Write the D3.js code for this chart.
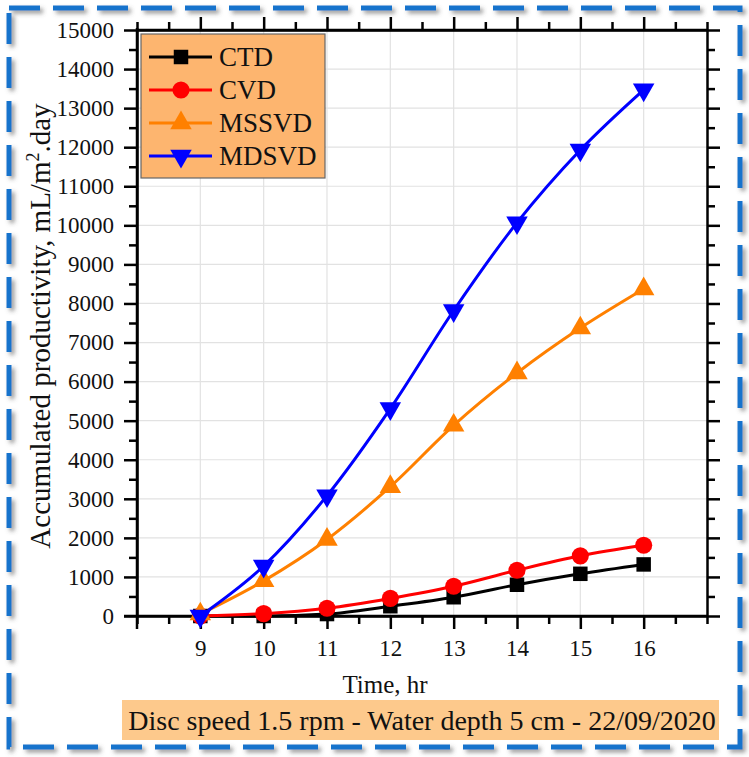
<!DOCTYPE html>
<html><head><meta charset="utf-8">
<script src="https://cdn.jsdelivr.net/npm/d3@7/dist/d3.min.js"></script>
<style>body{margin:0;background:#fff}svg{display:block}text{font-family:"Liberation Serif","Times New Roman",serif}</style>
</head><body><div id="c"></div>
<script>
const hours = [9, 10, 11, 12, 13, 14, 15, 16];
const seriesNames = ["CTD", "CVD", "MSSVD", "MDSVD"];
const ctd = [0, 0, 50, 250, 480, 800, 1080, 1320];
const cvd = [0, 60, 200, 450, 760, 1170, 1540, 1810];
const mssvd = [50, 900, 1960, 3310, 4880, 6220, 7370, 8370];
const mdsvd = [0, 1280, 3080, 5310, 7820, 10070, 11930, 13470];
const yTicks = [0,1000,2000,3000,4000,5000,6000,7000,8000,9000,10000,11000,12000,13000,14000,15000];
const xTicks = [9,10,11,12,13,14,15,16];
const xTitle = "Time, hr";
const caption = "Disc speed 1.5 rpm - Water depth 5 cm - 22/09/2020";

const W = 749, H = 757;
const svg = d3.select("#c").append("svg").attr("width", W).attr("height", H);
const defs = svg.append("defs");
const f = defs.append("filter").attr("id","sh").attr("x","-5%").attr("y","-5%").attr("width","110%").attr("height","110%");
f.append("feDropShadow").attr("dx",3).attr("dy",3).attr("stdDeviation",2).attr("flood-color","#555").attr("flood-opacity",0.6);

// border
svg.append("rect").attr("x",9).attr("y",8).attr("width",731).attr("height",739)
  .attr("fill","none").attr("stroke","#1873cc").attr("stroke-width",5)
  .attr("stroke-dasharray","31,13").attr("filter","url(#sh)");

const L = 137, R = 707, T = 30, B = 616;
const x = d3.scaleLinear().domain([8, 17]).range([L, R]);
const y = d3.scaleLinear().domain([0, 15000]).range([B, T]);

// grid
const g = svg.append("g");
g.selectAll(".gx").data(xTicks).enter().append("line")
  .attr("x1", d=>x(d)).attr("x2", d=>x(d)).attr("y1", T).attr("y2", B)
  .attr("stroke","#e2e2e2").attr("stroke-width",1.2);
g.selectAll(".gy").data(yTicks).enter().append("line")
  .attr("x1", L).attr("x2", R).attr("y1", d=>y(d)).attr("y2", d=>y(d))
  .attr("stroke","#e2e2e2").attr("stroke-width",1.2);

// axes
const MAJ = 13, MIN = 8;
function styleAxis(sel){
  sel.select(".domain").attr("stroke","#000").attr("stroke-width",2.5);
  sel.selectAll(".tick line").attr("stroke","#000").attr("stroke-width",2.5);
  sel.selectAll("text").attr("font-size",23).attr("fill","#111");
}
function minor(sel){ sel.select(".domain").remove(); sel.selectAll("line").attr("stroke","#000").attr("stroke-width",2.5); }
const xMinor = d3.range(8, 17.01, 0.5).filter(v=>!xTicks.includes(v));
const yMinor = d3.range(0, 15001, 500).filter(v=>v%1000);
const xb = svg.append("g").attr("transform",`translate(0,${B})`)
  .call(d3.axisBottom(x).tickValues(xTicks).tickSize(MAJ).tickSizeOuter(0).tickPadding(11).tickFormat(d3.format("d")));
styleAxis(xb);
svg.append("g").attr("transform",`translate(0,${B})`)
  .call(d3.axisBottom(x).tickValues(xMinor).tickSize(MIN).tickFormat("")).call(minor);
const xt = svg.append("g").attr("transform",`translate(0,${T})`)
  .call(d3.axisTop(x).tickValues(xTicks).tickSize(MAJ).tickSizeOuter(0).tickFormat(""));
styleAxis(xt);
svg.append("g").attr("transform",`translate(0,${T})`)
  .call(d3.axisTop(x).tickValues(xMinor).tickSize(MIN).tickFormat("")).call(minor);
const yl = svg.append("g").attr("transform",`translate(${L},0)`)
  .call(d3.axisLeft(y).tickValues(yTicks).tickSize(MAJ).tickSizeOuter(0).tickPadding(10).tickFormat(d3.format("d")));
styleAxis(yl);
svg.append("g").attr("transform",`translate(${L},0)`)
  .call(d3.axisLeft(y).tickValues(yMinor).tickSize(MIN).tickFormat("")).call(minor);
const yr = svg.append("g").attr("transform",`translate(${R},0)`)
  .call(d3.axisRight(y).tickValues(yTicks).tickSize(MAJ).tickSizeOuter(0).tickFormat(""));
styleAxis(yr);
svg.append("g").attr("transform",`translate(${R},0)`)
  .call(d3.axisRight(y).tickValues(yMinor).tickSize(MIN).tickFormat("")).call(minor);
svg.append("line").attr("x1",L).attr("x2",L).attr("y1",T-2).attr("y2",B+MAJ).attr("stroke","#000").attr("stroke-width",2.5);
svg.append("line").attr("x1",L-MAJ).attr("x2",R).attr("y1",B).attr("y2",B).attr("stroke","#000").attr("stroke-width",2.5);
svg.append("line").attr("x1",L).attr("x2",R+1).attr("y1",T).attr("y2",T).attr("stroke","#000").attr("stroke-width",2.5);

// series
const series = [
  {name: seriesNames[0], vals: ctd, color: "#000000", sym: d3.symbolSquare, size: 210, rot: 0},
  {name: seriesNames[1], vals: cvd, color: "#ff0000", sym: d3.symbolCircle, size: 230, rot: 0},
  {name: seriesNames[2], vals: mssvd, color: "#ff8000", sym: d3.symbolTriangle, size: 200, rot: 0},
  {name: seriesNames[3], vals: mdsvd, color: "#0000ff", sym: d3.symbolTriangle, size: 200, rot: 180},
];
const line = d3.line().x(d=>x(d[0])).y(d=>y(d[1])).curve(d3.curveMonotoneX);
series.forEach(s=>{
  const pts = hours.map((h,i)=>[h, s.vals[i]]);
  svg.append("path").datum(pts).attr("d", line).attr("fill","none")
    .attr("stroke", s.color).attr("stroke-width", 3);
});
series.forEach(s=>{
  const pts = hours.map((h,i)=>[h, s.vals[i]]);
  svg.selectAll(null).data(pts).enter().append("path")
    .attr("d", d3.symbol().type(s.sym).size(s.size))
    .attr("transform", d=>`translate(${x(d[0])},${y(d[1])}) rotate(${s.rot})`)
    .attr("fill", s.color);
});

// legend
const lg = svg.append("g");
lg.append("rect").attr("x",141).attr("y",34).attr("width",184).attr("height",144)
  .attr("fill","#fdb56f").attr("stroke","#666").attr("stroke-width",1.2);
series.forEach((s,i)=>{
  const yy = 57 + i*33;
  lg.append("line").attr("x1",149).attr("x2",212).attr("y1",yy).attr("y2",yy).attr("stroke",s.color).attr("stroke-width",3);
  lg.append("path").attr("d", d3.symbol().type(s.sym).size(s.size))
    .attr("transform",`translate(181,${yy}) rotate(${s.rot})`).attr("fill",s.color);
  lg.append("text").attr("x",219).attr("y",yy+9).attr("font-size",27).attr("fill","#111").text(s.name);
});

// titles
svg.append("text").attr("x",385).attr("y",693).attr("text-anchor","middle").attr("font-size",25).attr("fill","#111").text(xTitle);
const yt = svg.append("text").attr("transform",`translate(50,326) rotate(-90)`)
  .attr("text-anchor","middle").attr("font-size",29).attr("fill","#111");
yt.append("tspan").text("Accumulated productivity, mL/m");
yt.append("tspan").attr("font-size",18).attr("dy",-11).text("2");
yt.append("tspan").attr("dy",11).text(".day");

// caption
svg.append("rect").attr("x",122).attr("y",700).attr("width",597).attr("height",40).attr("fill","#fdc98c");
svg.append("text").attr("x",422).attr("y",730).attr("text-anchor","middle").attr("font-size",28).attr("fill","#111").text(caption);
</script></body></html>
